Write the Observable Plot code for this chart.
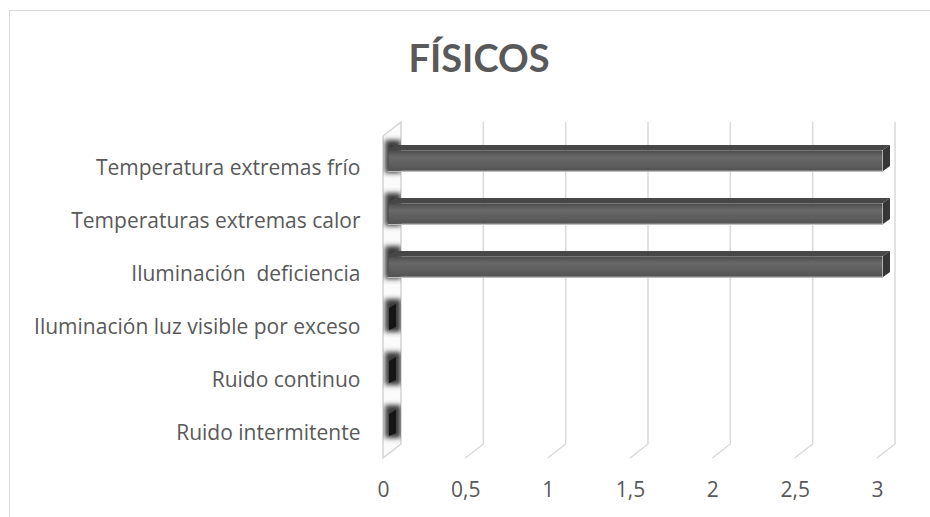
<!DOCTYPE html>
<html><head><meta charset="utf-8">
<script src="https://cdn.jsdelivr.net/npm/d3@7"></script>
<script src="https://cdn.jsdelivr.net/npm/@observablehq/plot@0.6"></script>
<style>
body{margin:0;background:#fff;width:930px;height:517px;overflow:hidden;position:relative;font-family:Lato,sans-serif}
#frame{position:absolute;left:9px;top:10px;width:960px;height:560px;border:1px solid #d9d9d9;box-sizing:border-box}
#title{position:absolute;left:0;width:958px;top:38px;line-height:38px;text-align:center;font-weight:bold;font-size:38px;color:#595959;font-family:Lato,sans-serif}
#chart{position:absolute;left:0;top:0}
svg text{white-space:pre}
</style></head>
<body>
<div id="frame"></div>
<div id="title">FÍSICOS</div>
<svg width="0" height="0" style="position:absolute">
<defs>
<linearGradient id="frontGrad" x1="0" y1="0" x2="0" y2="1">
<stop offset="0" stop-color="#4a4a4a"/><stop offset="0.22" stop-color="#5f5f5f"/><stop offset="0.35" stop-color="#686868"/><stop offset="0.75" stop-color="#5c5c5c"/><stop offset="1" stop-color="#535353"/>
</linearGradient>
<filter id="blurF" x="-50%" y="-50%" width="200%" height="200%"><feGaussianBlur stdDeviation="2.5"/></filter>
</defs></svg>
<div id="chart"></div>
<script>
const cats = ["Temperatura extremas frío","Temperaturas extremas calor","Iluminación  deficiencia","Iluminación luz visible por exceso","Ruido continuo","Ruido intermitente"];
const values = [3,3,3,0,0,0];
const xTicks = [0,0.5,1,1.5,2,2.5,3];
const xTickLabels = ["0","0,5","1","1,5","2","2,5","3"];

const data = cats.map((c,i)=>({cat:c, value:values[i]}));

// 3D geometry (pixel offsets)
const WALL_DX = 18, WALL_DY = 14;   // depth of floor / back wall
const BAR_DX = 7, BAR_DY = 5;       // depth of each bar
const BAR_OFF_X = 5, BAR_OFF_Y = -7, BAR_H = 21;

function backdrop(index, scales, values, dims) {
  const x = scales.x, y = scales.y;
  const bottom = dims.height - dims.marginBottom - 2;
  const top = dims.marginTop - 17 + WALL_DY;
  const g = d3.create("svg:g");
  const x0 = x(0);
  const wallPts = [[x0,bottom],[x0+WALL_DX,bottom-WALL_DY],[x0+WALL_DX,top-WALL_DY],[x0,top]];
  const cid = "wallclip";
  g.append("clipPath").attr("id",cid).append("polygon").attr("points", wallPts.map(p=>p.join(",")).join(" "));
  g.append("polygon").attr("points", wallPts.map(p=>p.join(",")).join(" "))
    .attr("fill","#fbfbfb").attr("stroke","#d4d4d4").attr("stroke-width",1.5);
  const sh = g.append("g").attr("clip-path",`url(#${cid})`);
  const bw = y.bandwidth();
  for (const c of cats) {
    const cy = y(c) + bw/2 + BAR_OFF_Y;
    sh.append("rect").attr("x",x0+2).attr("width",WALL_DX-2)
      .attr("y",cy-BAR_H/2-10).attr("height",BAR_H+12)
      .attr("fill","#3a3a3a").attr("filter","url(#blurF)");
  }
  for (const v of xTicks) {
    if (v === 0) continue;
    const xv = x(v);
    g.append("path").attr("d",`M${xv},${bottom}L${xv+WALL_DX},${bottom-WALL_DY}L${xv+WALL_DX},${top-WALL_DY}`)
      .attr("fill","none").attr("stroke","#d9d9d9").attr("stroke-width",1.5);
  }
  return g.node();
}

function barDepth(index, scales, values, dims) {
  const x = scales.x, y = scales.y, bw = y.bandwidth();
  const g = d3.create("svg:g");
  data.forEach(d => {
    const cy = y(d.cat) + bw/2 + BAR_OFF_Y;
    const t = cy - BAR_H/2, b = cy + BAR_H/2;
    const xs = x(0) + BAR_OFF_X, xe = x(d.value) + BAR_OFF_X + 1;
    if (d.value > 0) {
      g.append("polygon").attr("points",`${xs},${t} ${xe},${t} ${xe+BAR_DX},${t-BAR_DY} ${xs+BAR_DX},${t-BAR_DY}`)
        .attr("fill","#474747");
      g.append("polygon").attr("points",`${xe},${t} ${xe+BAR_DX},${t-BAR_DY} ${xe+BAR_DX},${b-BAR_DY} ${xe},${b}`)
        .attr("fill","#363636");
      g.append("line").attr("x1",xs).attr("x2",xe).attr("y1",b+0.5).attr("y2",b+0.5).attr("stroke","#bdbdbd").attr("stroke-width",1);
    } else {
      g.append("polygon").attr("points",`${xe},${t-1} ${xe+BAR_DX},${t-BAR_DY} ${xe+BAR_DX},${b-BAR_DY+2} ${xe},${b}`)
        .attr("fill","#151515");
    }
  });
  return g.node();
}

const chart = Plot.plot({
  width: 930, height: 517,
  marginLeft: 383, marginRight: 53, marginTop: 139, marginBottom: 57,
  style: {fontFamily: "'Open Sans', sans-serif", fontSize: "21px", color: "#595959", background: "transparent", overflow: "visible"},
  x: {domain: [0,3], ticks: xTicks, tickFormat: d => xTickLabels[xTicks.indexOf(d)], tickSize: 0, tickPadding: 22, label: null},
  y: {domain: cats, padding: 0, tickSize: 0, tickPadding: 23, label: null},
  marks: [
    backdrop,
    Plot.barX(data.filter(d=>d.value>0), {x: "value", y: "cat", dx: BAR_OFF_X + 0.5, dy: BAR_OFF_Y,
      insetTop: (53.5-BAR_H)/2, insetBottom: (53.5-BAR_H)/2, fill: "url(#frontGrad)"}),
    barDepth
  ]
});
document.getElementById("chart").appendChild(chart);
</script>
</body></html>
